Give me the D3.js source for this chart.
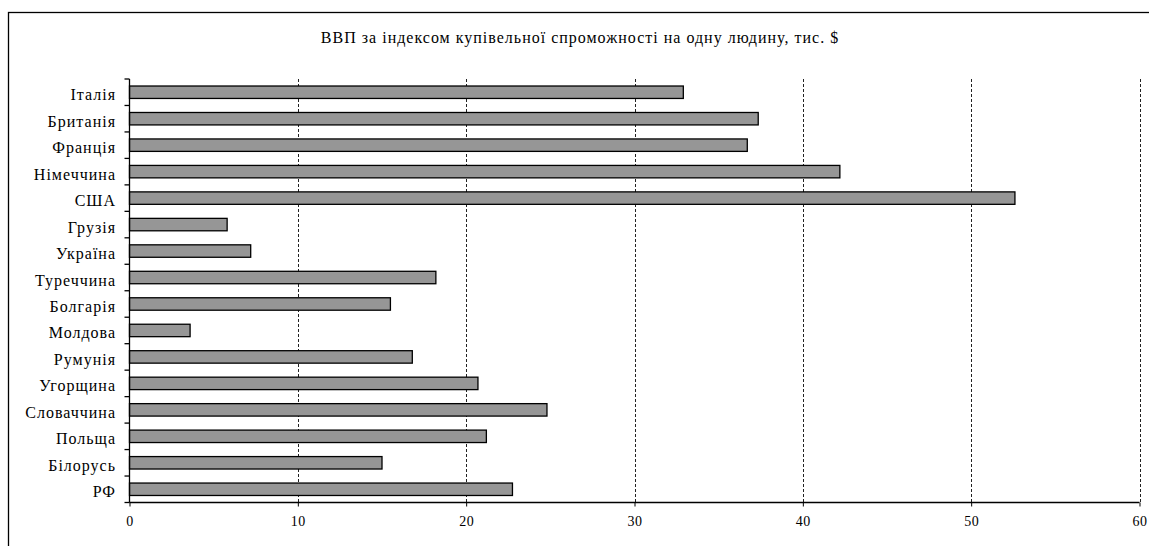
<!DOCTYPE html>
<html>
<head>
<meta charset="utf-8">
<script src="https://cdn.jsdelivr.net/npm/d3@7"></script>
<style>
  html, body { margin: 0; padding: 0; background: #fff; }
  svg { display: block; }
</style>
</head>
<body>
<svg id="chart" width="1149" height="546"></svg>
<script>
const title = "ВВП за індексом купівельної спроможності на одну людину, тис. $";
const countries = ["Італія", "Британія", "Франція", "Німеччина", "США", "Грузія", "Україна",
  "Туреччина", "Болгарія", "Молдова", "Румунія", "Угорщина", "Словаччина", "Польща", "Білорусь", "РФ"];
const gdpValues = [32.9, 37.35, 36.7, 42.2, 52.6, 5.8, 7.2, 18.2, 15.5, 3.6, 16.8, 20.7, 24.8, 21.2, 15.0, 22.75];
const xTicks = [0, 10, 20, 30, 40, 50, 60];

const FONT = "'Liberation Serif', 'Times New Roman', serif";
const svg = d3.select("#chart");
const plot = { left: 129.5, right: 1139.5, top: 79, bottom: 502.5 };

// outer frame
svg.append("rect")
  .attr("x", 8.5).attr("y", 12.5)
  .attr("width", 1160).attr("height", 560)
  .attr("fill", "none").attr("stroke", "#000").attr("stroke-width", 1.3);

// title
svg.append("text")
  .attr("x", 580).attr("y", 43)
  .attr("text-anchor", "middle")
  .attr("font-family", FONT)
  .attr("font-size", 16)
  .attr("letter-spacing", 1)
  .text(title);

const x = d3.scaleLinear().domain([0, 60]).range([plot.left, plot.right]);
const y = d3.scaleBand().domain(countries).range([plot.top, plot.bottom]).paddingInner(0.53).paddingOuter(0.265);
const yb = d3.scaleBand().domain(countries).range([plot.top, plot.bottom]);

// gridlines
svg.append("g").selectAll("line")
  .data(xTicks.filter(d => d > 0))
  .join("line")
  .attr("x1", d => Math.round(x(d)) + 0.5).attr("x2", d => Math.round(x(d)) + 0.5)
  .attr("y1", plot.top).attr("y2", plot.bottom)
  .attr("stroke", "#222").attr("stroke-width", 1)
  .attr("stroke-dasharray", "3,2");

// bars
svg.append("g").selectAll("rect")
  .data(countries.map((c, i) => ({ c, v: gdpValues[i] })))
  .join("rect")
  .attr("x", x(0))
  .attr("y", d => y(d.c))
  .attr("width", d => x(d.v) - x(0))
  .attr("height", y.bandwidth())
  .attr("fill", "#969696")
  .attr("stroke", "#000")
  .attr("stroke-width", 1.3);

// x axis
const xAxis = d3.axisBottom(x).tickValues(xTicks).tickSize(4).tickPadding(10).tickFormat(d3.format("d"));
const gx = svg.append("g").attr("transform", `translate(0,${plot.bottom})`).call(xAxis)
  .attr("font-family", FONT).attr("font-size", 14);
gx.select(".domain").attr("stroke", "#000").attr("stroke-width", 1.3).attr("d", `M${plot.left},0H${plot.right}`);
gx.selectAll(".tick line").attr("stroke", "#000");
gx.selectAll(".tick text").attr("fill", "#000").attr("letter-spacing", 0.5);

// y axis line
svg.append("line")
  .attr("x1", plot.left).attr("x2", plot.left)
  .attr("y1", plot.top).attr("y2", plot.bottom)
  .attr("stroke", "#000").attr("stroke-width", 1.3);

// y ticks between categories
const boundaries = countries.map(c => yb(c)).concat([plot.bottom]);
svg.append("g").selectAll("line")
  .data(boundaries)
  .join("line")
  .attr("x1", plot.left - 5).attr("x2", plot.left)
  .attr("y1", d => d).attr("y2", d => d)
  .attr("stroke", "#000").attr("stroke-width", 1.3);

// y labels
svg.append("g").selectAll("text")
  .data(countries)
  .join("text")
  .attr("x", 116)
  .attr("y", d => yb(d) + yb.bandwidth() / 2)
  .attr("dy", "0.5em")
  .attr("text-anchor", "end")
  .attr("font-family", FONT)
  .attr("font-size", 16)
  .attr("letter-spacing", 1)
  .text(d => d);
</script>
</body>
</html>
